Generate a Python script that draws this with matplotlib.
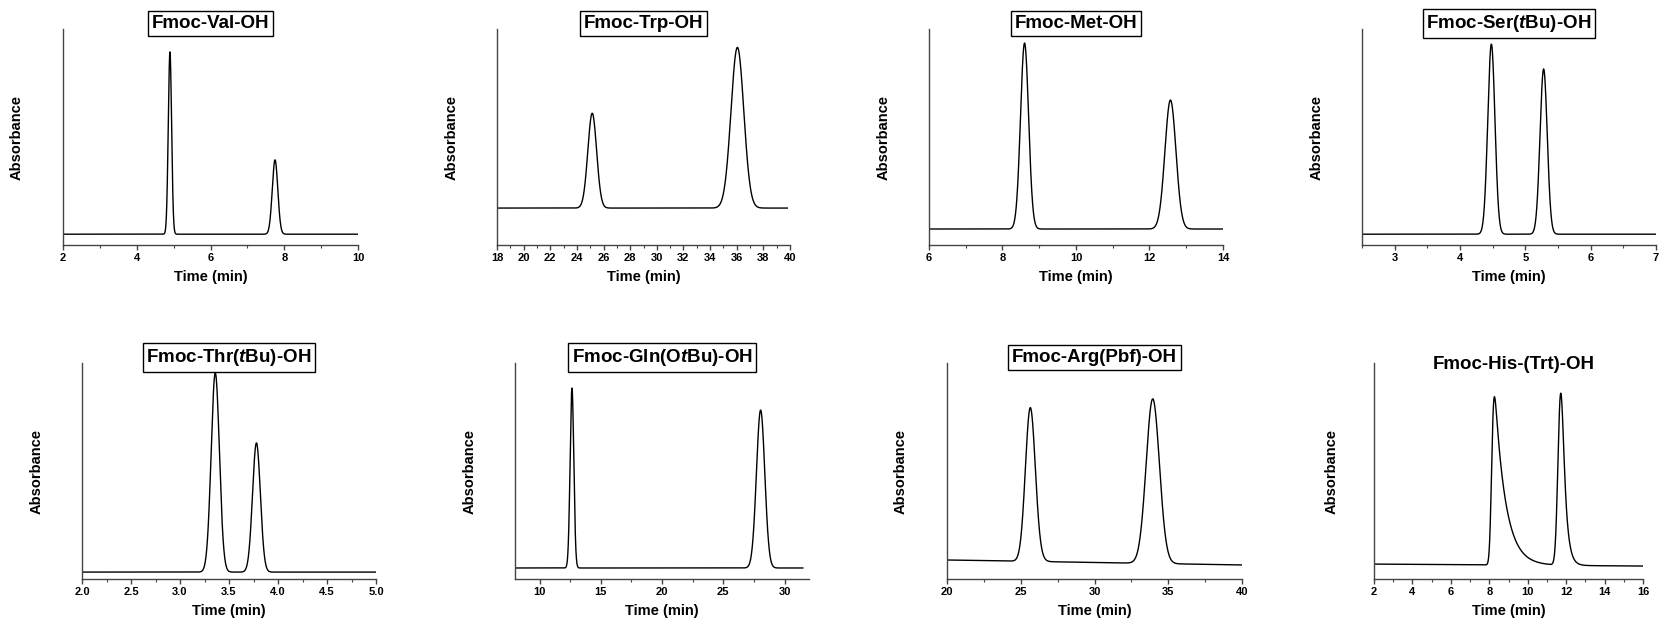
import numpy as np
import matplotlib.pyplot as plt
from matplotlib.ticker import MultipleLocator

plt.rcParams['font.family'] = ['Liberation Sans', 'DejaVu Sans']
plt.rcParams['font.weight'] = 'bold'
plt.rcParams['mathtext.fontset'] = 'custom'
plt.rcParams['mathtext.rm'] = 'Liberation Sans:bold'
plt.rcParams['mathtext.it'] = 'Liberation Sans:bold:italic'

# panel titles (no box for the last one)
titles = ['Fmoc-Val-OH', 'Fmoc-Trp-OH', 'Fmoc-Met-OH', 'Fmoc-Ser($t$Bu)-OH',
          'Fmoc-Thr($t$Bu)-OH', 'Fmoc-Gln(O$t$Bu)-OH', 'Fmoc-Arg(Pbf)-OH',
          'Fmoc-His-(Trt)-OH']
boxed = [True, True, True, True, True, True, True, False]

# x ranges and tick steps (major, minor)
xlims = [(2, 10), (18, 40), (6, 14), (2.5, 7), (2, 5), (8, 32), (20, 40), (2, 16)]
xmajor = [2, 2, 2, 1, 0.5, 5, 5, 2]
xminor = [1, 1, 1, 0.5, 0.25, 2.5, 2.5, 1]
run_end = [10, 39.8, 14, 7, 5, 31.5, 40, 16]

# baseline level at start / end of each run (fraction of y-axis)
base_start = [0.05, 0.171, 0.074, 0.05, 0.032, 0.051, 0.088, 0.069]
base_end = [0.05, 0.171, 0.074, 0.05, 0.032, 0.051, 0.065, 0.06]

# peaks: retention time, apex height above baseline, width (sigma), tailing (tau)
peak_rt = [[4.90, 7.75], [25.15, 36.05], [8.60, 12.57], [4.48, 5.28],
           [3.36, 3.78], [12.65, 28.05], [25.65, 33.95], [8.27, 11.72]]
peak_h = [[0.844, 0.344], [0.439, 0.744], [0.861, 0.597], [0.88, 0.765],
          [0.922, 0.598], [0.833, 0.731], [0.712, 0.762], [0.779, 0.796]]
peak_sig = [[0.045, 0.075], [0.33, 0.48], [0.11, 0.15], [0.055, 0.055],
            [0.042, 0.04], [0.15, 0.34], [0.32, 0.44], [0.09, 0.12]]
peak_tau = [[0, 0], [0, 0], [0, 0], [0, 0],
            [0, 0], [0, 0], [0.12, 0.1], [0.55, 0.18]]

# axes rectangles in pixels (left, right, top, bottom) on a 1659x624 canvas
W, H = 1659, 624
rects = [(63, 358, 29, 245), (497, 790, 29, 245), (929, 1223, 29, 245), (1362, 1656, 29, 245),
         (82, 376, 363, 579), (515, 809, 363, 579), (947, 1242, 363, 579), (1374, 1643, 363, 579)]


def peak(t, c, h, s, tau):
    g = np.exp(-0.5 * ((t - c) / s) ** 2)
    if tau > 0:
        dt = t[1] - t[0]
        k = np.exp(-np.arange(0, 10 * tau, dt) / tau)
        y = np.convolve(g, k)[:len(t)]
        off = t[np.argmax(y)] - c
        g = np.interp(t + off, t, y)
    return h * g / g.max()


fig = plt.figure(figsize=(W / 100, H / 100), dpi=100)

for i in range(8):
    l, r, top, bot = rects[i]
    ax = fig.add_axes([l / W, 1 - bot / H, (r - l) / W, (bot - top) / H])
    x0, x1 = xlims[i]
    t = np.linspace(x0, run_end[i], 4000)
    y = base_start[i] + (base_end[i] - base_start[i]) * (t - x0) / (run_end[i] - x0)
    for c, h, s, tau in zip(peak_rt[i], peak_h[i], peak_sig[i], peak_tau[i]):
        y = y + peak(t, c, h, s, tau)
    ax.plot(t, y, color='black', lw=1.0)
    ax.set_xlim(x0, x1)
    ax.set_ylim(0, 1)
    ax.spines['top'].set_visible(False)
    ax.spines['right'].set_visible(False)
    for sp in ['left', 'bottom']:
        ax.spines[sp].set_color('#444444')
        ax.spines[sp].set_linewidth(1.0)
    ax.set_yticks([])
    ax.xaxis.set_major_locator(MultipleLocator(xmajor[i]))
    ax.xaxis.set_minor_locator(MultipleLocator(xminor[i]))
    ax.tick_params(axis='x', which='major', direction='out', length=3.5, width=1,
                   labelsize=8, pad=2, color='#444444')
    ax.tick_params(axis='x', which='minor', direction='out', length=2, width=0.8,
                   color='#444444')
    if i == 4:
        ax.xaxis.set_major_formatter(plt.FormatStrFormatter('%.1f'))
    for lab in ax.get_xticklabels():
        lab.set_fontweight('bold')
    ax.set_xlabel('Time (min)', fontsize=10.5, fontweight='bold', labelpad=5)
    ax.set_ylabel('Absorbance', fontsize=10.5, fontweight='bold')
    ax.yaxis.set_label_coords(-0.132, 0.5)
    if boxed[i]:
        ax.text(0.5, 1.025, titles[i], transform=ax.transAxes, ha='center', va='center',
                fontsize=13.5, fontweight='bold',
                bbox=dict(boxstyle='square,pad=0.2', fc='white', ec='black', lw=1))
    else:
        ax.text(0.52, 0.995, titles[i], transform=ax.transAxes, ha='center', va='center',
                fontsize=13.5, fontweight='bold')

fig.savefig('out.png', dpi=100)
